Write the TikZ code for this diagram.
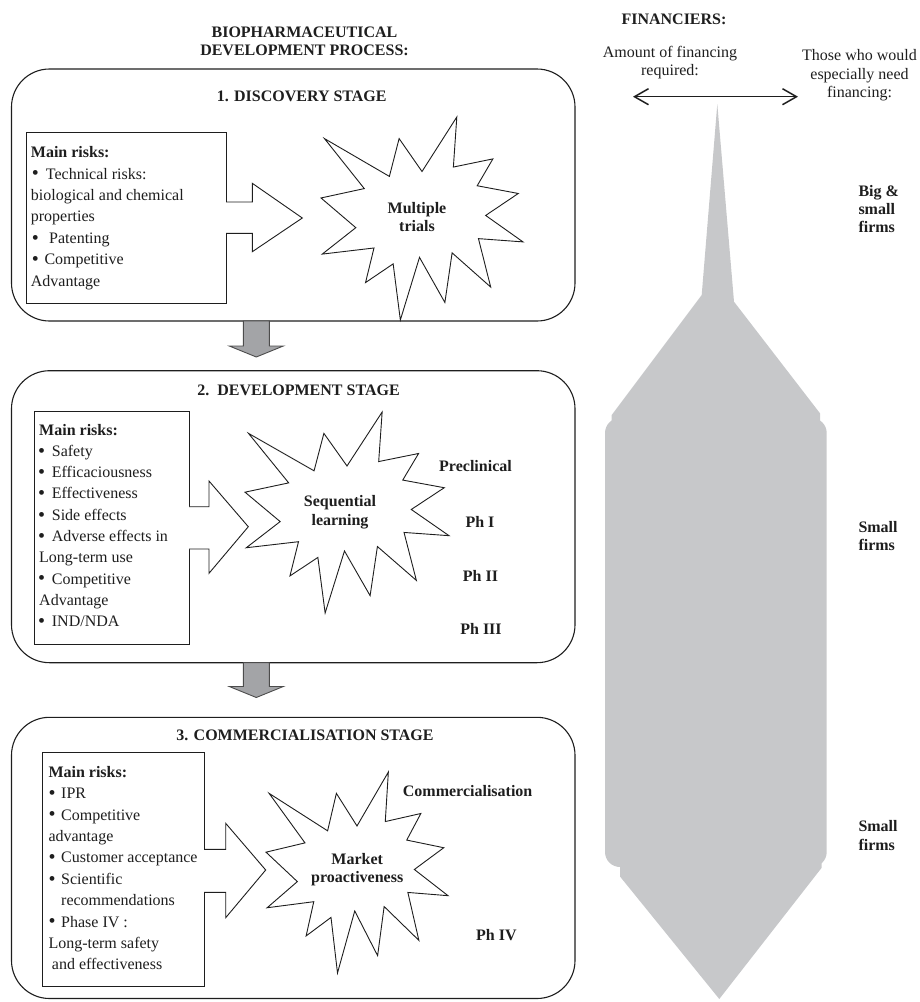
\documentclass[tikz,border=0pt]{standalone}
\usepackage{fontspec}
\setmainfont{Liberation Serif}
\usetikzlibrary{arrows.meta}
\definecolor{fingrey}{RGB}{199,200,202}
\definecolor{arrgrey}{RGB}{163,164,167}
\definecolor{ink}{RGB}{30,30,30}
\newcommand{\bul}{\raisebox{-0.8pt}{\fontsize{20}{19}\selectfont\textbullet}}
\newcommand{\drawburst}{\draw[burst] (108,58) -- (145.22,0) -- (141.55,53.25) -- (183.80,44.57) -- (167.02,73.15) -- (210.97,81.37) -- (176.07,104.75) -- (216,132.90) -- (168.37,129.42) -- (181.45,180.95) -- (140.20,144.57) -- (132.47,197.37) -- (105.32,149.35) -- (84.85,216) -- (77.15,156.27) -- (47.62,176.17) -- (56.67,139.37) -- (1.35,145.87) -- (37.22,117.75) -- (0,86.15) -- (46.27,76.17) -- (3.70,22.95) -- (73.12,63.20) -- (83.52,22.95) -- cycle;}
\tikzset{
  stagebox/.style={draw=ink, line width=1.1pt, rounded corners=38pt, inner sep=0pt},
  riskbox/.style={draw=ink, line width=0.9pt, fill=white, inner sep=0pt},
  whitearrow/.style={draw=ink, line width=0.9pt, fill=white, line join=miter},
  greyarrow/.style={draw=black!70, line width=0.9pt, fill=arrgrey, line join=miter},
  burst/.style={draw=ink, line width=0.9pt, fill=white, line join=miter},
  txt/.style={font=\fontsize{16}{19}\selectfont, inner sep=0pt, anchor=base west, text=ink},
  txtc/.style={txt, anchor=base},
  btxt/.style={txt, font=\fontsize{16}{19}\selectfont\bfseries},
  btxtc/.style={btxt, anchor=base},
}
\begin{document}
\begin{tikzpicture}[x=1pt,y=-1pt]
\useasboundingbox (0,0) rectangle (919,1002);

% ---------------- financing shape ----------------
\fill[fingrey] (717.3,104) -- (734,301.7) -- (820,413.3) -- (820,440) -- (611.7,440) -- (611.7,415) -- (701.7,295) -- cycle;
\fill[fingrey, rounded corners=15pt] (605,418) rectangle (826.7,867);
\fill[fingrey] (620,855) -- (620,876.5) -- (719.3,999) -- (821.7,867.7) -- (821.7,855) -- cycle;

% ---------------- headings ----------------
\node[btxtc] (h1) at (304.5,37.3) {BIOPHARMACEUTICAL};
\node[btxtc] (h2) at (304.5,55.7) {DEVELOPMENT PROCESS:};
\node[btxtc] (fin) at (674,24) {FINANCIERS:};
\node[txtc] (am1) at (670,57.3) {Amount of financing};
\node[txtc] (am2) at (670,75.5) {required:};
\node[txtc] (th1) at (859.5,60.5) {Those who would};
\node[txtc] (th2) at (859.5,79) {especially need};
\node[txtc] (th3) at (859.5,97) {financing:};
\coordinate (aL) at (633,96.7);
\coordinate (aR) at (798,96.7);
\draw[ink, line width=1.5pt, {Straight Barb[length=14pt,width=16pt]}-{Straight Barb[length=14pt,width=16pt]}] (aL) -- (aR);

\node[btxt] (bs1) at (858.3,196) {Big \&};
\node[btxt] (bs2) at (858.3,214) {small};
\node[btxt] (bs3) at (858.3,232) {firms};
\node[btxt] (sf1) at (858.3,532) {Small};
\node[btxt] (sf2) at (858.3,550.5) {firms};
\node[btxt] (sf3) at (858.3,831.5) {Small};
\node[btxt] (sf4) at (858.3,850) {firms};

% ---------------- stage boxes ----------------
\node[stagebox, minimum width=563.5pt, minimum height=252pt] (s1) at (293.25,195) {};
\node[stagebox, minimum width=563.5pt, minimum height=292pt] (s2) at (293.25,516.7) {};
\node[stagebox, minimum width=563.5pt, minimum height=281.2pt] (s3) at (293.25,857.9) {};

% grey arrows between stages
\draw[greyarrow] (243.3,321) -- (269.3,321) -- (269.3,346) -- (283.3,346) -- (256.3,357) -- (229.3,346) -- (243.3,346) -- cycle;
\draw[greyarrow] (243.3,662.7) -- (269.3,662.7) -- (269.3,686.5) -- (283.3,686.5) -- (256.3,697.5) -- (229.3,686.5) -- (243.3,686.5) -- cycle;

% ---------------- titles ----------------
\node[btxtc] (t1) at (301.7,101) {1. DISCOVERY STAGE};
\node[btxtc] (t2) at (298.5,395) {2.\ \ DEVELOPMENT STAGE};
\node[btxtc] (t3) at (305,740.7) {3. COMMERCIALISATION STAGE};

% ---------------- risk boxes ----------------
\node[riskbox, minimum width=200pt, minimum height=171pt] (r1) at (126,217.5) {};
\node[riskbox, minimum width=155pt, minimum height=233pt] (r2) at (111.5,527.5) {};
\node[riskbox, minimum width=161.3pt, minimum height=234pt] (r3) at (123.35,869.7) {};

% white arrows
\draw[whitearrow] (226,202) -- (252.3,202) -- (252.3,183.3) -- (302.3,218) -- (252.3,251.7) -- (252.3,233.3) -- (226,233.3);
\draw[whitearrow] (189,506.7) -- (209,506.7) -- (209,481) -- (248.3,526.7) -- (209,573.3) -- (209,549) -- (189,549);
\draw[whitearrow] (204,849.3) -- (225.7,849.3) -- (225.7,823.3) -- (265.7,870) -- (225.7,917.7) -- (225.7,892.3) -- (204,892.3);

% starbursts
\begin{scope}[shift={(321,117)}, x=0.93519pt, y=-0.93981pt]
\drawburst
\end{scope}
\begin{scope}[shift={(245,412)}, x=0.94444pt, y=-0.93056pt]
\drawburst
\end{scope}
\begin{scope}[shift={(266,772)}, x=0.84259pt, y=-0.93056pt]
\drawburst
\end{scope}

\node[btxtc] (st1a) at (417,213.3) {Multiple};
\node[btxtc] (st1b) at (417,231) {trials};
\node[btxtc] (st2a) at (340,506.7) {Sequential};
\node[btxtc] (st2b) at (340,525) {learning};
\node[btxtc] (st3a) at (357.2,864) {Market};
\node[btxtc] (st3b) at (357.2,882) {proactiveness};

% right-hand labels
\node[btxtc] (pre) at (475.5,471) {Preclinical};
\node[btxtc] (p1) at (480,527) {Ph I};
\node[btxtc] (p2) at (480.5,581) {Ph II};
\node[btxtc] (p3) at (481,634) {Ph III};
\node[btxtc] (com) at (467.6,796.5) {Commercialisation};
\node[btxtc] (p4) at (496.4,940.5) {Ph IV};

% ---------------- risk texts ----------------
\node[txt] (a1) at (30.7,157.7) {\textbf{Main risks:}};
\node[txt] (a2) at (31.7,179.1) {\makebox[14pt][l]{\bul}Technical risks:};
\node[txt] (a3) at (30.7,200.5) {biological and chemical};
\node[txt] (a4) at (30.7,221.9) {properties};
\node[txt] (a5) at (31.7,243.3) {\makebox[17.3pt][l]{\bul}Patenting};
\node[txt] (a6) at (31.7,264.7) {\makebox[12.6pt][l]{\bul}Competitive};
\node[txt] (a7) at (30.7,286.1) {Advantage};

\node[txt] (b1) at (39,435) {\textbf{Main risks:}};
\node[txt] (b2) at (38,456.3) {\makebox[13.7pt][l]{\bul}Safety};
\node[txt] (b3) at (38,477.6) {\makebox[13.7pt][l]{\bul}Efficaciousness};
\node[txt] (b4) at (38,498.9) {\makebox[13.7pt][l]{\bul}Effectiveness};
\node[txt] (b5) at (38,520.2) {\makebox[13.7pt][l]{\bul}Side effects};
\node[txt] (b6) at (38,541.5) {\makebox[13.7pt][l]{\bul}Adverse effects in};
\node[txt] (b7) at (39,562.8) {Long-term use};
\node[txt] (b8) at (38,584.1) {\makebox[13.7pt][l]{\bul}Competitive};
\node[txt] (b9) at (39,605.4) {Advantage};
\node[txt] (b10) at (38,626.7) {\makebox[13.7pt][l]{\bul}IND/NDA};

\node[txt] (c1) at (48.3,777.3) {\textbf{Main risks:}};
\node[txt] (c2) at (48.5,798.7) {\makebox[12.5pt][l]{\bul}IPR};
\node[txt] (c3) at (48.5,820.1) {\makebox[12.5pt][l]{\bul}Competitive};
\node[txt] (c4) at (48.3,841.5) {advantage};
\node[txt] (c5) at (48.5,862.9) {\makebox[12.5pt][l]{\bul}Customer acceptance};
\node[txt] (c6) at (48.5,884.3) {\makebox[12.5pt][l]{\bul}Scientific};
\node[txt] (c7) at (61,905.7) {recommendations};
\node[txt] (c8) at (48.5,927.1) {\makebox[12.5pt][l]{\bul}Phase IV :};
\node[txt] (c9) at (48.3,948.5) {Long-term safety};
\node[txt] (c10) at (51.7,969.9) {and effectiveness};
\end{tikzpicture}
\end{document}
